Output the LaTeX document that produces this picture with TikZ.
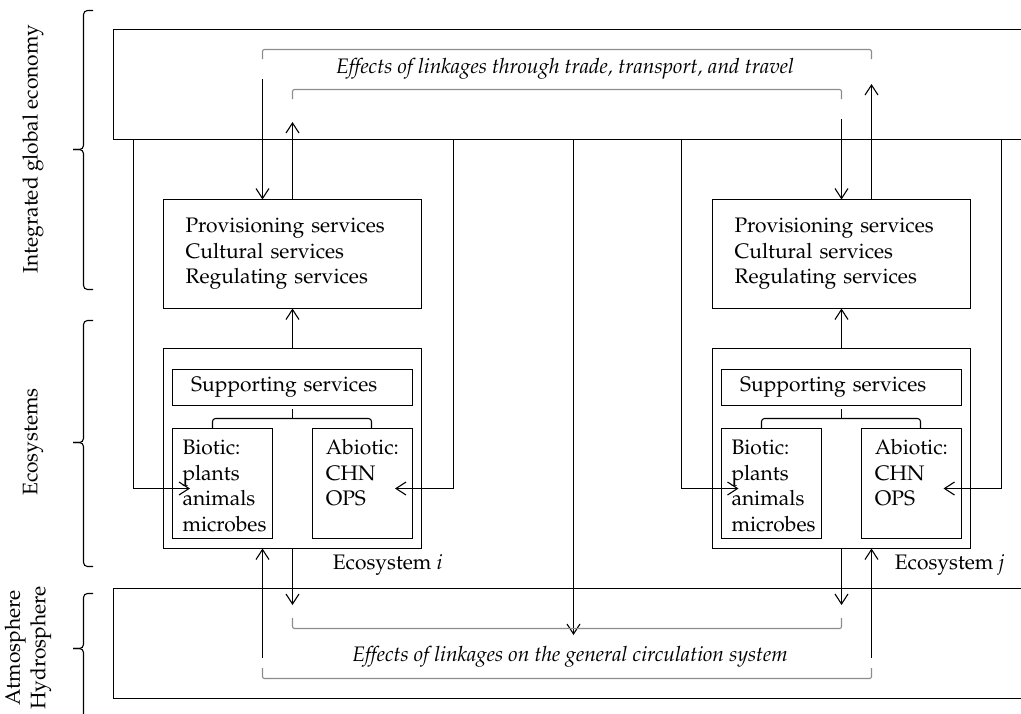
\documentclass[tikz,border=0pt]{standalone}
\usepackage[T1]{fontenc}
\usepackage{mathpazo}
\usepackage{tikz}
\usetikzlibrary{positioning, arrows.meta}

\begin{document}
\begin{tikzpicture}[
x=0.5pt, y=-0.5pt,
font=\fontsize{10.5}{12.75}\selectfont,
line width=0.55pt,
every node/.style={outer sep=0pt},
layerbox/.style={rectangle,
  draw,
  minimum width=460pt,
  minimum height=55pt,
  anchor=north west
},
ecobox/.style={rectangle,
  draw,
  minimum width=129pt,
  minimum height=100pt
},
servbox/.style={rectangle,
  draw,
  text width=107pt,
  inner xsep=11pt,
  inner ysep=0pt,
  minimum height=54.5pt,
  align=left
},
supbox/.style={rectangle,
  draw,
  text width=101.3pt,
  inner xsep=9.35pt,
  inner ysep=0pt,
  minimum height=18pt,
  align=left
},
partbox/.style={rectangle,
  draw,
  text width=40pt,
  inner xsep=5pt,
  inner ysep=0pt,
  text height=13pt,
  text depth=42pt,
  align=left
},
sidelbl/.style={rotate=90, inner sep=0pt, align=center},
ecolbl/.style={inner sep=0pt, anchor=west},
linktext/.style={font=\fontsize{10.5}{12.75}\selectfont\itshape},
link/.style={black!45, rounded corners=1pt},
sidebrace/.style={rounded corners=2pt},
>={Straight Barb[length=5pt,width=6.5pt]}
]
\useasboundingbox (0,0) rectangle (1021,713);

% layers
\node[layerbox] (econ) at (113.5,29.5) {};
\node[layerbox] (atmo) at (113.5,588.5) {};

% ecosystem i
\node[ecobox, anchor=north west] (ecoi) at (163.5,348.5) {};
\node[servbox, above=20pt of ecoi] (servi)
    {Provisioning services\\Cultural services\\Regulating services};
\node[supbox, below=10.5pt of ecoi.north] (supi)
    {Supporting services};
\node[partbox, below=11.5pt of supi.south west, anchor=north west] (bioi)
    {Biotic:\\plants\\animals\\microbes};
\node[partbox, text width=36.7pt, inner xsep=6.65pt, below=11.5pt of supi.south east, anchor=north east] (abioi)
    {Abiotic:\\CHN\\OPS};
\node[ecolbl] (labi) at ([xshift=-44.3pt,yshift=-8pt]ecoi.south east)
    {Ecosystem \textit{i}};

% ecosystem j
\node[ecobox, right=145.5pt of ecoi] (ecoj) {};
\node[servbox, above=20pt of ecoj] (servj)
    {Provisioning services\\Cultural services\\Regulating services};
\node[supbox, below=10.5pt of ecoj.north] (supj)
    {Supporting services};
\node[partbox, below=11.5pt of supj.south west, anchor=north west] (bioj)
    {Biotic:\\plants\\animals\\microbes};
\node[partbox, text width=36.7pt, inner xsep=6.65pt, below=11.5pt of supj.south east, anchor=north east] (abioj)
    {Abiotic:\\CHN\\OPS};
\node[ecolbl] (labj) at ([xshift=-37.8pt,yshift=-8pt]ecoj.south east)
    {Ecosystem \textit{j}};

% supporting braces
\draw[rounded corners=1.5pt] ([xshift=-5pt]bioi.north) |- ([yshift=-6.5pt]supi.south) -| ([xshift=4.5pt]abioi.north);
\draw ([yshift=-6.5pt]supi.south) -- ([yshift=-1.5pt]supi.south);
\draw[rounded corners=1.5pt] ([xshift=-5pt]bioj.north) |- ([yshift=-6.5pt]supj.south) -| ([xshift=4.5pt]abioj.north);
\draw ([yshift=-6.5pt]supj.south) -- ([yshift=-1.5pt]supj.south);

% services up
\draw[->] (ecoi.north) -- (servi.south);
\draw[->] (ecoj.north) -- (servj.south);

% economy <-> services
\coordinate (tdi) at (262.5,79);
\coordinate (tui) at (292.5,122);
\coordinate (tdj) at (841.5,119);
\coordinate (tuj) at (871.5,84);
\draw[->] (tdi) -- (tdi |- servi.north);
\draw[->] (servi.north) -- (tui);
\draw[->] (tdj) -- (tdj |- servj.north);
\draw[->] (tuj |- servj.north) -- (tuj);

% economy -> biotic / abiotic
\coordinate (lci) at (133.5,488.5);
\coordinate (rci) at (453.5,488.5);
\coordinate (bini) at (190,488.5);
\coordinate (abini) at (395,488.5);
\draw[->] (lci |- econ.south) |- (bini);
\draw[->] (rci |- econ.south) |- (abini);
\coordinate (lcj) at (681.5,488.5);
\coordinate (rcj) at (1001.5,488.5);
\coordinate (binj) at (738.5,488.5);
\coordinate (abinj) at (943.5,488.5);
\draw[->] (lcj |- econ.south) |- (binj);
\draw[->] (rcj |- econ.south) |- (abinj);

% economy -> circulation
\coordinate (cend) at (573.5,635);
\draw[->] (cend |- econ.south) -- (cend);

% ecosystems <-> circulation
\coordinate (bdi) at (292.5,605);
\coordinate (bui) at (262.5,658);
\coordinate (bdj) at (841.5,605);
\coordinate (buj) at (871.5,658);
\draw[->] (ecoi.south) -- (bdi);
\draw[->] (bui) -- (bui |- ecoi.south);
\draw[->] (ecoj.south) -- (bdj);
\draw[->] (buj) -- (buj |- ecoj.south);

% linkages
\draw[link] (262.5,59) |- (871.5,49.5) -- (871.5,59);
\draw[link] (292.5,99) |- (841.5,89.5) -- (841.5,99);
\draw[link] (292.5,618) |- (841.5,628.5) -- (841.5,618);
\draw[link] (262.5,668) |- (871.5,678.5) -- (871.5,668);
\node[linktext] (trade) at (565,69)
    {Effects of linkages through trade, transport, and travel};
\node[linktext] (circ) at (570,657)
    {Effects of linkages on the general circulation system};

% side braces and labels
\foreach \ya/\ym/\yb in {10.5/149.5/289.5, 320.5/442.5/566.5, 593.5/648.5/725}
{
  \draw[sidebrace] (93,\ya) -| (83.5,\ym) -- (73,\ym);
  \draw[sidebrace] (73,\ym) -- (83.5,\ym) |- (93,\yb);
}
\node[sidelbl] (econlbl) at (33,149) {Integrated global economy};
\node[sidelbl] (ecolbl) at (33,442) {Ecosystems};
\node[sidelbl] (atmolbl) at (28,648) {Atmosphere\\Hydrosphere};
\end{tikzpicture}
\end{document}
